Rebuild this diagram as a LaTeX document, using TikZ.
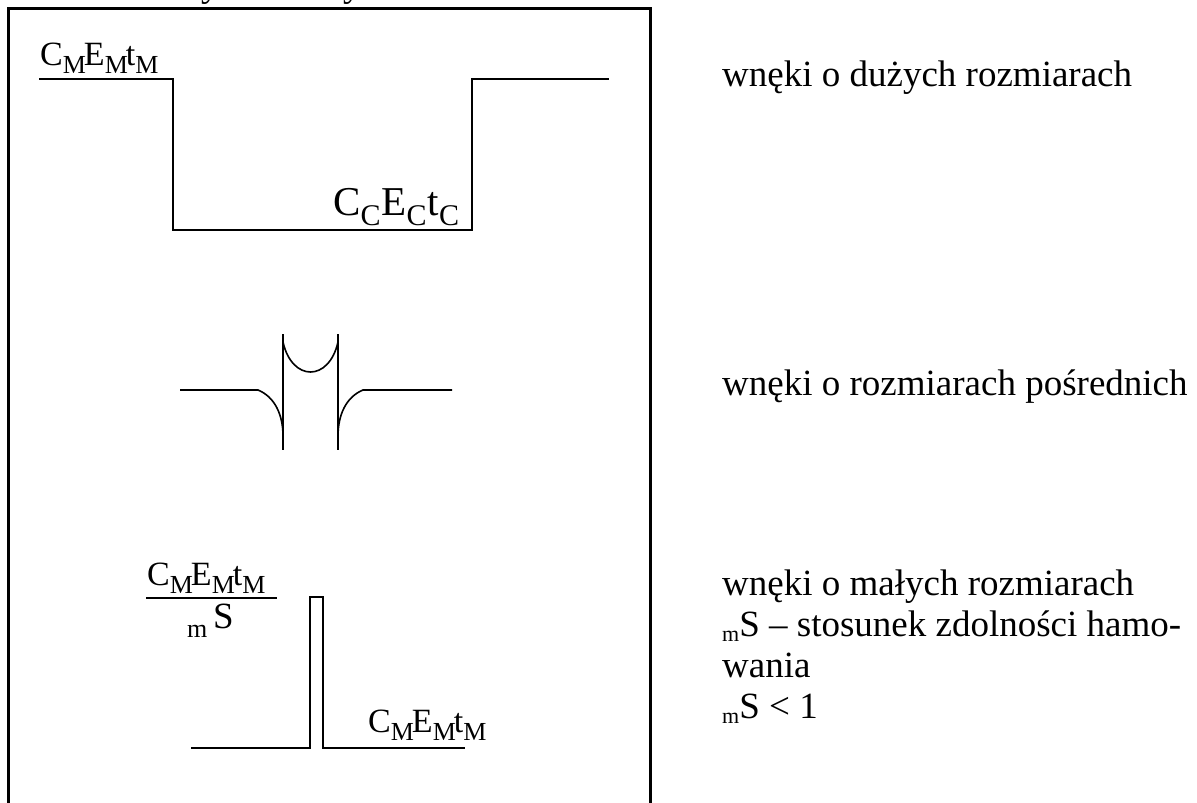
\documentclass[tikz,border=0pt]{standalone}
\usepackage{fontspec}
\setmainfont{Liberation Serif}
\newcommand{\lsub}[3]{\raisebox{-#1pt}{\fontsize{#2}{#2}\selectfont #3}}
\newcommand{\CEtM}{\fontsize{34}{40}\selectfont C\lsub{8}{26}{M}\kern-2pt E\lsub{8}{26}{M}\kern-2pt t\lsub{8}{26}{M}}
\newcommand{\CEtC}{\fontsize{41}{46}\selectfont C\lsub{10}{30}{C}\kern1pt E\lsub{10}{30}{C}\kern1pt t\lsub{10}{30}{C}}
\begin{document}
\begin{tikzpicture}[x=1pt,y=-1pt,
  lbl/.style={inner sep=0pt,anchor=base west},
  txt/.style={lbl,font=\fontsize{37}{41}\selectfont},
  curve/.style={line width=1.6pt,line join=miter},
  frame/.style={line width=3pt}]
\useasboundingbox (0,0) rectangle (1197,803);
% frame
\draw[frame] (8,803) -- (8,8) -- (650,8) -- (650,803);
% fragments of the line above
\node[txt] (fy1) at (201,-3) {y};
\node[txt] (fy2) at (343,-3) {y};
% large cavities
\draw[curve] (39,79) -- (173,79) -- (173,230) -- (472,230) -- (472,79) -- (609,79);
\node[lbl] (lblM1) at (40,65) {\CEtM};
\node[lbl] (lblC) at (333,215) {\CEtC};
% intermediate cavities
\draw[curve] (180,390) -- (258,390) .. controls (275,397) and (283,415) .. (283,436);
\draw[curve] (283,334) -- (283,450);
\draw[curve] (338,334) -- (338,450);
\draw[curve] (283,342) .. controls (292,382) and (329,382) .. (338,342);
\draw[curve] (452,390) -- (363,390) .. controls (346,397) and (338,415) .. (338,436);
% small cavities
\draw[curve] (191,748) -- (310,748) -- (310,597) -- (323,597) -- (323,748) -- (465,748);
\node[lbl] (num) at (147,585) {\CEtM};
\draw[curve] (146,598) -- (277,598);
\node[lbl,font=\fontsize{26}{26}\selectfont] (dm) at (187,637) {m};
\node[lbl,font=\fontsize{37}{37}\selectfont] (dS) at (213,628) {S};
\node[lbl] (lblM2) at (368,732) {\CEtM};
% right texts
\node[txt] (t1) at (722,86) {wnęki o dużych rozmiarach};
\node[txt] (t2) at (722,395) {wnęki o rozmiarach pośrednich};
\node[txt] (t3) at (722,595) {wnęki o małych rozmiarach};
\node[txt] (t4) at (722,636) {\lsub{5}{22}{m}S – stosunek zdolności hamo-};
\node[txt] (t5) at (722,677) {wania};
\node[txt] (t6) at (722,718) {\lsub{5}{22}{m}S < 1};
\end{tikzpicture}
\end{document}
